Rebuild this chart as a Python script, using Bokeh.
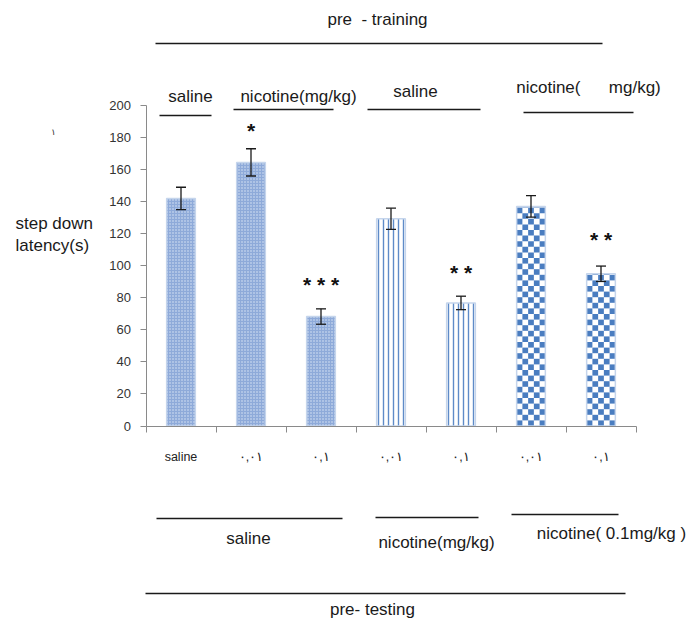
from bokeh.plotting import figure
from bokeh.models import (Range1d, LinearAxis, FixedTicker, Whisker, TeeHead,
                          ColumnDataSource)
from bokeh.core.properties import value
from bokeh.embed import file_html
from bokeh.resources import INLINE

# ---------------- data ----------------
CATEGORIES = ["saline", "٠,٠١", "٠,١", "٠,٠١", "٠,١", "٠,٠١", "٠,١"]
PATTERN_GROUP = ["fine", "fine", "fine", "stripe", "stripe", "checker", "checker"]
LATENCY = [142, 164.5, 68.3, 129.3, 76.8, 137, 95]
SEM = [7, 8.5, 4.8, 6.6, 4.2, 6.7, 4.8]
STARS = ["", "*", "* * *", "", "* *", "", "* *"]
Y_TICKS = [0, 20, 40, 60, 80, 100, 120, 140, 160, 180, 200]
Y_LABEL = "step down\nlatency(s)"

# --------------- layout (page pixels) ---------------
W, H = 692, 619
AX_X0, AX_X1 = 145.5, 635.5      # x-axis extent on page
Y0_PX, Y200_PX = 425.5, 105.0    # pixel rows of y=0 and y=200
n = len(CATEGORIES)
cat_w = (AX_X1 - AX_X0) / n
px_per_unit = (Y0_PX - Y200_PX) / 200.0

x_start = -AX_X0 / cat_w
x_end = (W - AX_X0) / cat_w
y_end = Y0_PX / px_per_unit
y_start = (Y0_PX - H) / px_per_unit

FONT = value("Liberation Sans")
NB = "\u00a0"

p = figure(width=W, height=H, x_range=Range1d(x_start, x_end),
           y_range=Range1d(y_start, y_end), x_axis_type=None, y_axis_type=None,
           toolbar_location=None, output_backend="svg", min_border=0,
           outline_line_color=None)
p.extra_x_ranges = {"px": Range1d(0, W)}
p.extra_y_ranges = {"px": Range1d(H, 0)}

# --------------- axes ---------------
yaxis = LinearAxis(fixed_location=0, bounds=(0, 200), ticker=FixedTicker(ticks=Y_TICKS),
                   axis_line_color="#8a8a8a", major_tick_line_color="#8a8a8a",
                   major_tick_out=6, major_tick_in=0, minor_tick_line_color=None,
                   major_label_text_font_size="13px", major_label_text_font="Liberation Sans",
                   major_label_text_color="#333333", major_label_standoff=9)
p.add_layout(yaxis, "left")

xaxis = LinearAxis(fixed_location=0, bounds=(0, n), ticker=FixedTicker(ticks=list(range(n + 1))),
                   axis_line_color="#8a8a8a", major_tick_line_color="#8a8a8a",
                   major_tick_out=6, major_tick_in=0, minor_tick_line_color=None,
                   major_label_text_color=None)
p.add_layout(xaxis, "below")

centers = [i + 0.5 for i in range(n)]
xlab = LinearAxis(fixed_location=0, ticker=FixedTicker(ticks=centers),
                  major_label_overrides={c: lab for c, lab in zip(centers, CATEGORIES)},
                  axis_line_color=None, major_tick_line_color=None, minor_tick_line_color=None,
                  major_label_text_font_size="12.5px", major_label_text_font="Liberation Sans",
                  major_label_text_color="#222222", major_label_standoff=18)
p.add_layout(xlab, "below")

# --------------- bars ---------------
def subset(g):
    idx = [i for i, gg in enumerate(PATTERN_GROUP) if gg == g]
    return idx, ColumnDataSource(dict(x=[centers[i] for i in idx], top=[LATENCY[i] for i in idx]))

BAR_W = 0.41
_, s_fine = subset("fine")
p.vbar(x="x", top="top", bottom=0, width=BAR_W, source=s_fine,
       fill_color="#8eaad9", line_color="#c5d5ec", line_width=1.5,
       hatch_pattern="dot", hatch_color="#e6eefa", hatch_scale=3, hatch_weight=1.2,
       hatch_alpha=0.9)
_, s_stripe = subset("stripe")
p.vbar(x="x", top="top", bottom=0, width=BAR_W, source=s_stripe,
       fill_color="#ffffff", line_color="#c5d5ec", line_width=1.5,
       hatch_pattern="vertical_line", hatch_color="#5e8bc8", hatch_scale=5, hatch_weight=1.4)

# checkerboard bars: white bar plus a grid of blue cells clipped to each bar
idx_chk, s_chk = subset("checker")
CELL_PX = 5.6
ncols = 5
cell_w = BAR_W / ncols
cell_h = CELL_PX / px_per_unit
cl, cr, cb, ct = [], [], [], []
for i in idx_chk:
    left = centers[i] - BAR_W / 2
    row = 0
    while row * cell_h < LATENCY[i]:
        bot = row * cell_h
        top = min((row + 1) * cell_h, LATENCY[i])
        for c in range(ncols):
            if (row + c) % 2 == 0:
                cl.append(left + c * cell_w)
                cr.append(left + (c + 1) * cell_w)
                cb.append(bot)
                ct.append(top)
        row += 1
p.vbar(x="x", top="top", bottom=0, width=BAR_W, source=s_chk,
       fill_color="#ffffff", line_color=None)
p.quad(left=cl, right=cr, bottom=cb, top=ct, fill_color="#4a7dc0", line_color=None)
p.vbar(x="x", top="top", bottom=0, width=BAR_W, source=s_chk,
       fill_color=None, line_color="#c5d5ec", line_width=1.5)

src = ColumnDataSource(dict(x=centers,
                            upper=[v + e for v, e in zip(LATENCY, SEM)],
                            lower=[v - e for v, e in zip(LATENCY, SEM)]))
whisk = Whisker(source=src, base="x", upper="upper", lower="lower", dimension="height",
                line_color="#1a1a1a", line_width=1.3, level="overlay",
                upper_head=TeeHead(size=10, line_color="#1a1a1a", line_width=1.3),
                lower_head=TeeHead(size=10, line_color="#1a1a1a", line_width=1.3))
p.add_layout(whisk)

# significance stars above the error bars
STAR_GAP_PX = [0, 20, 26, 0, 26, 0, 29]
for i, s in enumerate(STARS):
    if s:
        p.text(x=[centers[i]], y=[LATENCY[i] + SEM[i]], text=[s], y_offset=-(STAR_GAP_PX[i] - 2),
               text_align="center", text_baseline="middle", text_font=FONT,
               text_font_size="21px", text_color="#111111", text_font_style="bold")

# --------------- group annotations (page pixel coords) ---------------
seg_x0 = [155, 159, 233, 367, 523, 156, 375, 511, 145]
seg_x1 = [602, 211, 333, 480, 633, 342, 478, 618, 625]
seg_y = [43, 115, 109, 109, 112, 518, 517, 514, 593]
p.segment(x0=seg_x0, y0=seg_y, x1=seg_x1, y1=seg_y, x_range_name="px", y_range_name="px",
          line_color="#1a1a1a", line_width=1.5)

lab_text = ["pre" + NB + NB + "- training", "saline", "nicotine(mg/kg)", "saline",
            "nicotine(" + NB * 6 + "mg/kg)",
            "saline", "nicotine(mg/kg)", "nicotine(" + NB + "0.1mg/kg" + NB + ")", "pre- testing"]
lab_x = [377, 190, 298, 415, 588, 248, 436, 611, 372]
lab_y = [19, 96, 96, 91, 87, 538, 542, 533, 609]
p.text(x=lab_x, y=lab_y, text=lab_text, x_range_name="px", y_range_name="px",
       text_align="center", text_baseline="middle", text_font=FONT,
       text_font_size="17px", text_color="#1a1a1a")

p.text(x=[15], y=[234], text=[Y_LABEL], x_range_name="px", y_range_name="px",
       text_align="left", text_baseline="middle", text_font=FONT,
       text_font_size="17px", text_color="#1a1a1a", text_line_height=1.15)
p.text(x=[53], y=[131], text=["١"], x_range_name="px", y_range_name="px",
       text_align="center", text_baseline="middle", text_font=value("DejaVu Sans"),
       text_font_size="9px", text_color="#333333")

open("out.html", "w").write(file_html(p, INLINE))
